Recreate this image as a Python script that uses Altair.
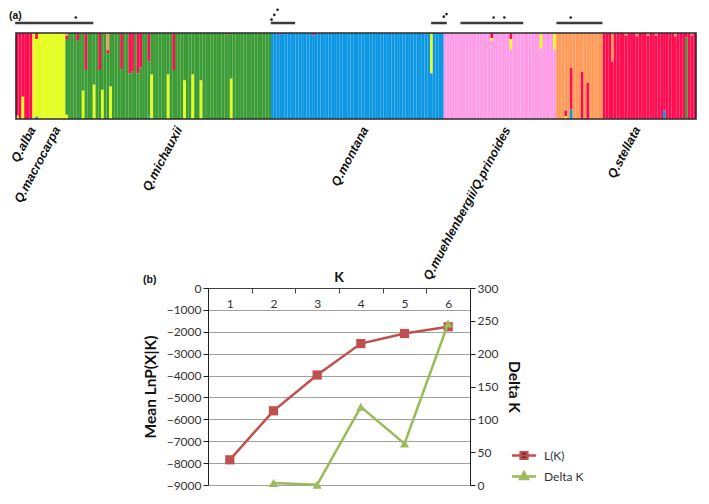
import altair as alt
import pandas as pd

# ---------------- panel (a): STRUCTURE bar plot ----------------
cluster_order = ["blue", "pink", "yellow", "green", "red", "orange"]   # bottom -> top
cluster_colors = ["#0d97e3", "#ff9be6", "#e4ff1c", "#3b9b35", "#ff0c50", "#ff9a58"]

block_sizes = [6, 12, 75, 63, 41, 17, 34]
block_main = ["red", "yellow", "green", "blue", "pink", "orange", "red"]

admix_ind = [0, 2, 7, 7, 18, 18, 18, 22, 24, 25, 28, 30, 31, 33, 33, 34, 38, 41, 42, 44, 45,
             48, 48, 49, 55, 57, 61, 64, 67, 77, 78, 96, 108, 151, 173, 173, 180, 180, 191, 196,
             200, 200, 202, 202, 206, 208, 217, 222, 226, 230, 233, 240, 246, 236, 244]
admix_cluster = ["yellow", "yellow", "red", "blue", "red", "orange", "yellow", "red", "yellow", "red",
                 "yellow", "red", "yellow", "orange", "red", "yellow", "red", "red", "red", "red", "red",
                 "red", "blue", "yellow", "yellow", "red", "yellow", "yellow", "yellow", "red", "yellow",
                 "red", "red", "yellow", "red", "yellow", "red", "yellow", "yellow", "yellow",
                 "red", "yellow", "red", "blue", "red", "red", "orange", "orange", "orange", "orange",
                 "orange", "orange", "orange", "blue", "green"]
admix_q = [0.04, 0.26, 0.07, 0.03, 0.04, 0.03, 0.05, 0.09, 0.33, 0.43, 0.40, 0.43, 0.34, 0.20, 0.04,
           0.38, 0.42, 0.47, 0.45, 0.47, 0.40, 0.33, 0.03, 0.52, 0.52, 0.43, 0.45, 0.52, 0.45, 0.02,
           0.47, 0.02, 0.03, 0.47, 0.06, 0.03, 0.07, 0.12, 0.18, 0.19, 0.07, 0.03, 0.49, 0.11, 0.55,
           0.42, 0.33, 0.03, 0.04, 0.03, 0.03, 0.04, 0.03, 0.10, 0.95]

species_names = ["Q.alba", "Q.macrocarpa", "Q.michauxii", "Q.montana",
                 "Q.muehlenbergii/Q.prinoides", "Q.stellata"]
species_pos = [6.0, 15.0, 59.5, 127.4, 179.2, 226.6]

line_start = [-0.3, 92.9, 151.4, 162.1, 197.1]
line_end = [28.2, 101.8, 157.1, 185.0, 213.9]
dot_pos = [21.8, 93.2, 94.2, 95.4, 156.0, 157.0, 174.2, 178.1, 202.3]
dot_level = [1.18, 1.155, 1.21, 1.27, 1.19, 1.22, 1.18, 1.18, 1.18]

# ---------------- panel (b): Evanno plot ----------------
k_values = [1, 2, 3, 4, 5, 6]
lk_values = [-7850, -5610, -3975, -2540, -2080, -1770]
dk_k = [2, 3, 4, 5, 6]
dk_values = [3, 0.5, 119, 63, 246]
legend_series = ["L(K)", "Delta K"]
legend_colors = ["#c0504d", "#9bbb59"]

# ---------- build tables ----------
main_of = []
for n, m in zip(block_sizes, block_main):
    main_of += [m] * n
n_total = len(main_of)
mem = [dict() for _ in range(n_total)]
for i, c, q in zip(admix_ind, admix_cluster, admix_q):
    mem[i][c] = mem[i].get(c, 0) + q
rows = []
for i in range(n_total):
    other = sum(mem[i].values())
    mem[i][main_of[i]] = mem[i].get(main_of[i], 0) + 1 - other
    for c, q in mem[i].items():
        rows.append({"ind": i, "cluster": c, "q": q, "rank": cluster_order.index(c)})
df_a = pd.DataFrame(rows)
df_lines = pd.DataFrame({"s": line_start, "e": line_end, "lvl": [1.116] * len(line_start)})
df_dots = pd.DataFrame({"p": dot_pos, "lvl": dot_level})
df_lab = pd.DataFrame({"name": species_names, "p": species_pos, "lvl": [-0.1] * len(species_names)})
one = pd.DataFrame({"t": [0]})

# layout: everything positioned relative to the (b) plot area origin
W_B, H_B = 262, 197
A_X_RANGE = [-192, 488]     # pixel span of panel (a) bars
A_Y_RANGE = [-169, -255]    # bottom, top of panel (a) bars

xs = alt.Scale(domain=[0, n_total], range=A_X_RANGE, nice=False, zero=False)
ys = alt.Scale(domain=[0, 1], range=A_Y_RANGE, nice=False, zero=False)

bars = alt.Chart(df_a).transform_stack(
    stack="q", groupby=["ind"], as_=["q0", "q1"], sort=[alt.SortField("rank", order="ascending")]
).transform_calculate(ind2="datum.ind + 1").mark_rect().encode(
    x=alt.X("ind:Q", scale=xs, axis=None),
    x2="ind2:Q",
    y=alt.Y("q0:Q", scale=ys, axis=None),
    y2="q1:Q",
    color=alt.Color("cluster:N", scale=alt.Scale(domain=cluster_order, range=cluster_colors), legend=None),
)
frame = alt.Chart(one).mark_rect(filled=False, stroke="#2a2a2a", strokeWidth=1.6).encode(
    x=alt.datum(0, scale=xs, axis=None), x2=alt.datum(n_total),
    y=alt.datum(0, scale=ys, axis=None), y2=alt.datum(1))
tops = alt.Chart(df_lines).mark_rule(color="#3a3a3a", strokeWidth=2.5).encode(
    x=alt.X("s:Q", scale=xs, axis=None), x2="e:Q", y=alt.Y("lvl:Q", scale=ys, axis=None))
dots = alt.Chart(df_dots).mark_circle(color="#222222", size=7, opacity=1).encode(
    x=alt.X("p:Q", scale=xs, axis=None), y=alt.Y("lvl:Q", scale=ys, axis=None))
labels = alt.Chart(df_lab).mark_text(angle=298, align="right", baseline="middle", font="Liberation Sans",
                                     fontSize=12.5, fontStyle="italic", fontWeight="bold", color="#111111").encode(
    x=alt.X("p:Q", scale=xs, axis=None), y=alt.Y("lvl:Q", scale=ys, axis=None), text="name:N")
panel_a = alt.layer(bars, frame, tops, dots, labels)

tag_a = alt.Chart(pd.DataFrame({"t": ["(a)"]})).mark_text(
    align="left", baseline="middle", font="Liberation Sans", fontSize=10.5, fontWeight="bold", color="#111111"
).encode(x=alt.value(A_X_RANGE[0] - 7), y=alt.value(A_Y_RANGE[1] - 17), text="t:N")
pin = alt.Chart(one).mark_rule(opacity=0).encode(
    x=alt.value(A_X_RANGE[0] - 8), x2=alt.value(A_X_RANGE[0] - 7), y=alt.value(0))

# ---------- panel (b) ----------
df_l = pd.DataFrame({"K": k_values, "v": lk_values})
df_d = pd.DataFrame({"K": dk_k, "v": dk_values})

xk = alt.X("K:O", bandPosition=0.5,
           scale=alt.Scale(type="band", domain=k_values, paddingInner=0, paddingOuter=0),
           axis=alt.Axis(orient="bottom", offset=-H_B, tickBand="extent", labelAngle=0, title=None,
                         domainColor="#404040", domainWidth=1.2, tickColor="#404040", tickSize=5,
                         labelPadding=5, labelFont="Lato", labelFontSize=12, labelColor="#333333", grid=False))

y_left = alt.Y("v:Q", scale=alt.Scale(domain=[-9000, 0], nice=False, zero=False),
               axis=alt.Axis(orient="left", values=list(range(-9000, 1, 1000)), format="d",
                             title="Mean LnP(X|K)", titleFont="Lato", titleFontSize=15.5, titleFontWeight="bold",
                             titleColor="#111111", titlePadding=8, grid=True, gridColor="#a0a0a0", gridWidth=1.1,
                             domainColor="#202020", tickColor="#202020", tickSize=5, labelPadding=2,
                             labelFont="Lato", labelFontSize=12, labelColor="#333333"))
y_right = alt.Y("v:Q", scale=alt.Scale(domain=[0, 300], nice=False, zero=True),
                axis=alt.Axis(orient="right", values=list(range(0, 301, 50)), format="d",
                              title="Delta K", titleFont="Lato", titleFontSize=15.5, titleFontWeight="bold",
                              titleColor="#111111", titlePadding=8, grid=False,
                              domainColor="#202020", tickColor="#202020", tickSize=5, labelPadding=2,
                              labelFont="Lato", labelFontSize=12, labelColor="#333333"))

l_line = alt.Chart(df_l).mark_line(color=legend_colors[0], strokeWidth=2.5).encode(x=xk, y=y_left)
l_pts = alt.Chart(df_l).mark_point(shape="square", filled=True, size=85, opacity=1,
                                   color=legend_colors[0]).encode(x=xk, y=y_left)
d_line = alt.Chart(df_d).mark_line(color=legend_colors[1], strokeWidth=2.5).encode(x=xk, y=y_right)
d_pts = alt.Chart(df_d).mark_point(shape="triangle-up", filled=True, size=85, opacity=1,
                                   color=legend_colors[1]).encode(x=xk, y=y_right)
panel_b = alt.layer(alt.layer(l_line, l_pts), alt.layer(d_line, d_pts)).resolve_scale(y="independent")

leg_paths = ["M-1.15,0H1.15M-0.32,-0.32H0.32V0.32H-0.32Z", "M-1.15,0H1.15M0,-0.4L0.36,0.24H-0.36Z"]
leg = alt.Legend(orient="none", legendX=304, legendY=155.5, title=None, symbolSize=441, symbolStrokeWidth=2.5,
                 rowPadding=0, labelFont="Lato", labelFontSize=12, labelColor="#333333", labelOffset=8)
legend_layer = alt.Chart(pd.DataFrame({"s": legend_series})).transform_filter("false").mark_point(
    filled=True, opacity=1).encode(
    shape=alt.Shape("s:N", scale=alt.Scale(domain=legend_series, range=leg_paths), legend=leg),
    color=alt.Color("s:N", scale=alt.Scale(domain=legend_series, range=legend_colors), legend=leg),
    stroke=alt.Stroke("s:N", scale=alt.Scale(domain=legend_series, range=legend_colors), legend=leg),
)
tag_k = alt.Chart(pd.DataFrame({"t": ["K"]})).mark_text(
    align="center", baseline="middle", font="Lato", fontSize=14, fontWeight="bold", color="#111111"
).encode(x=alt.value(W_B / 2), y=alt.value(-10), text="t:N")
tag_b = alt.Chart(pd.DataFrame({"t": ["(b)"]})).mark_text(
    align="left", baseline="middle", font="Liberation Sans", fontSize=10.5, fontWeight="bold", color="#111111"
).encode(x=alt.value(-65), y=alt.value(-8), text="t:N")

chart = alt.layer(
    panel_a, panel_b, legend_layer, tag_a, tag_k, tag_b, pin
).resolve_scale(x="independent", y="independent").properties(
    width=W_B, height=H_B, padding=0, view={"stroke": "transparent"})
chart.save("out.html", embed_options={"renderer": "svg", "actions": False})
